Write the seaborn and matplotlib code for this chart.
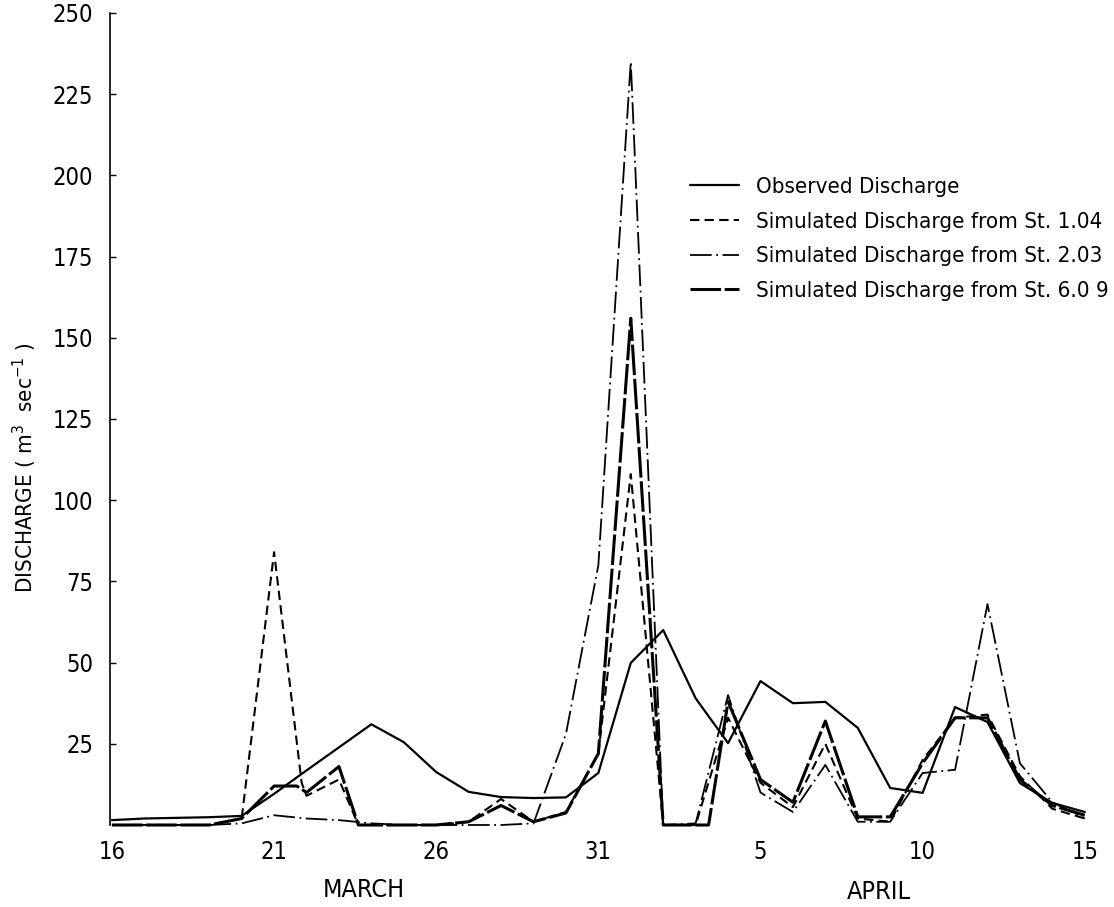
import matplotlib
matplotlib.use('Agg')
import matplotlib.pyplot as plt
import pandas as pd
import seaborn as sns

# day index: 0 = 16 March ... 15 = 31 March, 16 = 1 April ... 30 = 15 April
obs_day = list(range(31))
obs_q = [1.5, 2.0, 2.2, 2.4, 2.8, 9.6, 16.8, 23.9, 31.0, 25.5, 16.3, 10.2, 8.6, 8.3, 8.5, 16.0,
         49.9, 60.0, 39.0, 25.2, 44.3, 37.5, 37.9, 29.9, 11.4, 9.9, 36.3, 31.7, 12.9, 6.8, 4.0]

st104_day = [0, 1, 2, 3, 4, 5, 5.85, 6, 7, 7.6, 8, 9, 10, 11, 12, 13, 14, 15, 16, 17, 18,
             19, 20, 21, 22, 23, 24, 25, 26, 27, 28, 29, 30]
st104_q = [0, 0, 0, 0, 2, 84, 13, 9, 14, 0, 0, 0, 0, 1, 8, 1, 4, 22, 108, 0, 0,
           33, 13, 5.5, 25, 2, 1, 20, 33, 34, 15, 5, 2]

st203_day = list(range(31))
st203_q = [0, 0, 0, 0, 0.5, 3, 2, 1.5, 0.5, 0, 0, 0, 0, 0.5, 28, 80,
           235, 0, 0.5, 40, 10, 4, 18.5, 1, 1, 16, 17, 68, 19, 7, 2]

st609_day = [0, 1, 2, 3, 4, 5, 5.7, 6, 7, 7.6, 8, 9, 10, 11, 12, 13, 14, 15, 16, 17, 18.4,
             19, 20, 21, 22, 23, 24, 25, 26, 27, 28, 29, 30]
st609_q = [0, 0, 0, 0, 2, 12, 12, 10, 18, 0, 0, 0, 0, 1, 6, 1, 3.7, 22, 156, 0, 0,
           38, 14, 7, 32, 2.5, 2.5, 19, 33, 33, 14, 6, 3]

tick_days = [0, 5, 10, 15, 20, 25, 30]
tick_labels = ['16', '21', '26', '31', '5', '10', '15']
y_ticks = [25, 50, 75, 100, 125, 150, 175, 200, 225, 250]

series = [
    ('Observed Discharge', obs_day, obs_q, '-', 1.6),
    ('Simulated Discharge from St. 1.04', st104_day, st104_q, (0, (4.5, 2.5)), 1.5),
    ('Simulated Discharge from St. 2.03', st203_day, st203_q, (0, (12, 2.5, 1, 2.5)), 1.3),
    ('Simulated Discharge from St. 6.0 9', st609_day, st609_q, (0, (10, 1.2)), 2.2),
]

sns.set_theme(style='white')
plt.rcParams['font.family'] = ['DejaVu Sans']
plt.rcParams['font.stretch'] = 'condensed'
plt.rcParams['text.color'] = 'black'
plt.rcParams['xtick.color'] = 'black'
plt.rcParams['ytick.color'] = 'black'
plt.rcParams['axes.labelcolor'] = 'black'

fig = plt.figure(figsize=(11.14, 9.07), dpi=100)
ax = fig.add_axes([110 / 1114, 82 / 907, 990 / 1114, 812 / 907])

for name, d, q, ls, lw in series:
    df = pd.DataFrame({'day': d, 'q': q})
    sns.lineplot(data=df, x='day', y='q', ax=ax, color='black', linestyle=ls,
                 linewidth=lw, label=name, sort=False, estimator=None)

for line in ax.lines:
    line.set_clip_on(False)

ax.set_xlim(-0.06, 30.47)
ax.set_ylim(0, 250)
ax.set_xticks(tick_days)
ax.set_xticklabels(tick_labels)
ax.set_yticks(y_ticks)
ax.tick_params(axis='x', length=0, pad=11, labelsize=17)
ax.tick_params(axis='y', direction='in', length=4, width=1, left=True, pad=12, labelsize=17)
ax.set_xlabel('')
ax.set_ylabel('')

for s in ['top', 'right', 'bottom']:
    ax.spines[s].set_visible(False)
ax.spines['left'].set_color('black')
ax.spines['left'].set_linewidth(1.2)

fig.text(25 / 1114, 1 - 468 / 907, r'DISCHARGE ( m$^3$  sec$^{-1}$ )', rotation=90,
         ha='center', va='center', fontsize=16)
fig.text(364 / 1114, 1 - 890 / 907, 'MARCH', ha='center', va='center', fontsize=18)
fig.text(879 / 1114, 1 - 892 / 907, 'APRIL', ha='center', va='center', fontsize=18)

ax.legend(loc='upper left', bbox_to_anchor=(690 / 1114, 1 - 177 / 907),
          bbox_transform=fig.transFigure, frameon=False, fontsize=16,
          handlelength=2.2, handletextpad=0.75, labelspacing=0.66, borderpad=0,
          borderaxespad=0)

fig.savefig('out.png', dpi=100)
